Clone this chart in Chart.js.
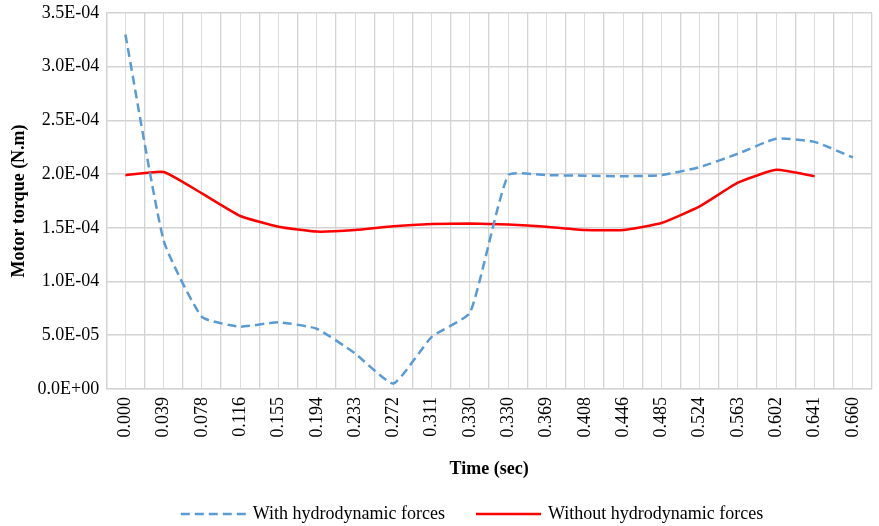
<!DOCTYPE html>
<html>
<head>
<meta charset="utf-8">
<script src="https://cdn.jsdelivr.net/npm/chart.js@4"></script>
<style>
  html, body { margin: 0; padding: 0; background: #ffffff; }
  #wrap { width: 879px; height: 526px; }
</style>
</head>
<body>
<div id="wrap"><canvas id="c" width="879" height="526"></canvas></div>
<script>
const categories = ["0.000","0.039","0.078","0.116","0.155","0.194","0.233","0.272","0.311","0.330","0.330","0.369","0.408","0.446","0.485","0.524","0.563","0.602","0.641","0.660"];
const withHydro = [3.30e-4,1.38e-4,6.7e-5,5.8e-5,6.2e-5,5.6e-5,3.3e-5,5.0e-6,4.85e-5,7.1e-5,1.99e-4,1.99e-4,1.985e-4,1.98e-4,1.99e-4,2.065e-4,2.19e-4,2.33e-4,2.30e-4,2.155e-4];
const withoutHydro = [1.99e-4,2.02e-4,1.82e-4,1.61e-4,1.51e-4,1.465e-4,1.48e-4,1.515e-4,1.535e-4,1.54e-4,1.53e-4,1.51e-4,1.48e-4,1.48e-4,1.545e-4,1.70e-4,1.92e-4,2.04e-4,1.98e-4,null];
const seriesNames = ["With hydrodynamic forces","Without hydrodynamic forces"];
const yTitle = "Motor torque (N.m)";
const xTitle = "Time (sec)";

function fmtE(v) {
  if (Math.abs(v) < 1e-12) return "0.0E+00";
  const s = v.toExponential(1);
  const [m, e] = s.split("e");
  const n = parseInt(e, 10);
  const sign = n < 0 ? "-" : "+";
  const a = Math.abs(n);
  return m + "E" + sign + (a < 10 ? "0" + a : "" + a);
}

const FONT = "'Liberation Serif', 'Times New Roman', serif";
const FS = 18;
const GRID = "#d3d3d3";

const bottomLegend = {
  id: "bottomLegend",
  afterDraw(chart) {
    const ctx = chart.ctx;
    const sets = chart.data.datasets;
    const lineLen = 65, gap = 7, itemGap = 31;
    ctx.save();
    ctx.font = FS + "px " + FONT;
    const widths = sets.map(d => lineLen + gap + ctx.measureText(d.label).width);
    const total = widths.reduce((a, b) => a + b, 0) + itemGap * (sets.length - 1);
    let x = 472 - total / 2;
    const y = chart.height - 12;
    sets.forEach((d, i) => {
      ctx.beginPath();
      ctx.strokeStyle = d.borderColor;
      ctx.lineWidth = d.borderWidth;
      ctx.setLineDash(d.borderDash || []);
      ctx.moveTo(x, y);
      ctx.lineTo(x + lineLen, y);
      ctx.stroke();
      ctx.setLineDash([]);
      ctx.fillStyle = "#000";
      ctx.textBaseline = "middle";
      ctx.textAlign = "left";
      ctx.fillText(d.label, x + lineLen + gap, y);
      x += widths[i] + itemGap;
    });
    ctx.restore();
  }
};

new Chart(document.getElementById("c"), {
  type: "line",
  data: {
    labels: categories,
    datasets: [
      {
        label: seriesNames[0],
        data: withHydro,
        borderColor: "#5b9bd5",
        backgroundColor: "#5b9bd5",
        borderWidth: 2.5,
        borderDash: [9, 5],
        pointRadius: 0,
        tension: 0.15,
        fill: false
      },
      {
        label: seriesNames[1],
        data: withoutHydro,
        borderColor: "#ff0000",
        backgroundColor: "#ff0000",
        borderWidth: 2.5,
        pointRadius: 0,
        tension: 0.15,
        fill: false,
        spanGaps: false
      }
    ]
  },
  plugins: [bottomLegend],
  options: {
    responsive: false,
    animation: false,
    devicePixelRatio: 1,
    layout: { padding: { left: 6, right: 7, top: 0, bottom: 44 } },
    plugins: {
      legend: { display: false },
      tooltip: { enabled: false }
    },
    scales: {
      x: {
        type: "category",
        offset: true,
        afterFit: (s) => { s.paddingRight = 0; s.paddingLeft = 0; },
        grid: { offset: true, color: GRID, lineWidth: 1.3, drawTicks: false },
        border: { color: GRID, width: 1.3 },
        ticks: {
          autoSkip: false,
          maxRotation: 90,
          minRotation: 90,
          padding: 8,
          color: "#000",
          font: { family: FONT, size: FS }
        },
        title: {
          display: true,
          text: xTitle,
          color: "#000",
          font: { family: FONT, size: FS, weight: "bold" },
          padding: { top: 13, bottom: 2 }
        }
      },
      x2: {
        type: "category",
        labels: categories,
        position: "bottom",
        offset: true,
        afterFit: (s) => { s.paddingRight = 0; s.paddingLeft = 0; },
        grid: { offset: false, color: "#dcdcdc", lineWidth: 1, drawTicks: false },
        border: { display: false },
        ticks: { display: false }
      },
      y: {
        min: 0,
        max: 3.5e-4,
        afterFit: (s) => { s.paddingTop = 13; },
        grid: { color: GRID, lineWidth: 1.5, drawTicks: false },
        border: { color: GRID, width: 1.3 },
        ticks: {
          stepSize: 5e-5,
          padding: 7,
          color: "#000",
          font: { family: FONT, size: FS },
          callback: (v) => fmtE(v)
        },
        title: {
          display: true,
          text: yTitle,
          color: "#000",
          font: { family: FONT, size: FS, weight: "bold" },
          padding: { top: 3, bottom: 0 }
        }
      }
    }
  }
});
</script>
</body>
</html>
